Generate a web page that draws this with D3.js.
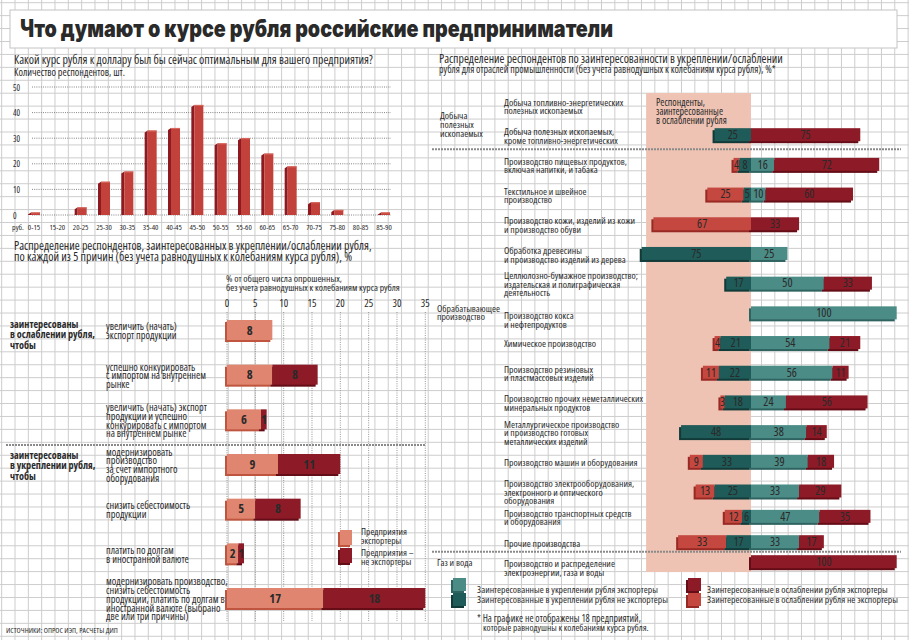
<!DOCTYPE html>
<html><head><meta charset="utf-8">
<script src="https://cdn.jsdelivr.net/npm/d3@7"></script>
<style>
body{margin:0;background:#fff}
text{font-family:"Open Sans",sans-serif;font-stretch:75%;fill:#2a2a2a}
</style></head><body><svg id="c" width="909" height="640"></svg>
<script>
// ---------- DATA ----------
const histCategories = ["0-15","15-20","20-25","25-30","30-35","35-40","40-45","45-50","50-55","55-60","60-65","65-70","70-75","75-80","80-85","85-90"];
const histValues = [1,0,3,13,17,33,34,43,28,30,24,19,5,2,0,1];
const histTicks = [0,10,20,30,40,50];

const reasonGroups = [["заинтересованы","в ослаблении рубля,","чтобы"],["заинтересованы","в укреплении рубля,","чтобы"]];
const reasonLabels = [
  ["увеличить (начать)","экспорт продукции"],
  ["успешно конкурировать","с импортом на внутреннем","рынке"],
  ["увеличить (начать) экспорт","продукции и успешно","конкурировать с импортом","на внутреннем рынке"],
  ["модернизировать","производство","за счет импортного","оборудования"],
  ["снизить себестоимость","продукции"],
  ["платить по долгам","в иностранной валюте"],
  ["модернизировать производство,","снизить себестоимость","продукции, платить по долгам в","иностранной валюте (выбрано","две или три причины)"]
];
const reasonExporters = [8,8,6,9,5,2,17];
const reasonNonExporters = [0,8,1,11,8,1,18];
const reasonTicks = [0,5,10,15,20,25,30,35];

const industryGroups = [["Добыча","полезных","ископаемых"],["Обрабатывающее","производство"],["Газ и вода"]];
const industryLabels = [
  ["Добыча топливно-энергетических","полезных ископаемых"],
  ["Добыча полезных ископаемых,","кроме топливно-энергетических"],
  ["Производство пищевых продуктов,","включая напитки, и табака"],
  ["Текстильное и швейное","производство"],
  ["Производство кожи, изделий из кожи","и производство обуви"],
  ["Обработка древесины","и производство изделий из дерева"],
  ["Целлюлозно-бумажное производство;","издательская и полиграфическая","деятельность"],
  ["Производство кокса","и нефтепродуктов"],
  ["Химическое производство"],
  ["Производство резиновых","и пластмассовых изделий"],
  ["Производство прочих неметаллических","минеральных продуктов"],
  ["Металлургическое производство","и производство готовых","металлических изделий"],
  ["Производство машин и оборудования"],
  ["Производство электрооборудования,","электронного и оптического","оборудования"],
  ["Производство транспортных средств","и оборудования"],
  ["Прочие производства"],
  ["Производство и распределение","электроэнергии, газа и воды"]
];
// weakening, non-exporters (leftmost)
const weakNonExp   = [0,0,4,25,67,0,0,0,4,11,3,0,9,13,12,33,0];
// strengthening, non-exporters (left, next to centre)
const strongNonExp = [0,25,8,5,0,75,17,0,21,22,18,48,33,25,6,17,0];
// strengthening, exporters (right, next to centre)
const strongExp    = [0,0,16,10,0,25,50,100,54,56,24,38,39,33,47,33,0];
// weakening, exporters (rightmost)
const weakExp      = [0,75,72,60,33,0,33,0,21,11,56,14,18,29,35,17,100];

const legendLeft = [["Предприятия","экспортеры"],["Предприятия –","не экспортеры"]];
const legendRight = ["Заинтересованные в укреплении рубля экспортеры","Заинтересованные в укреплении рубля не экспортеры","Заинтересованные в ослаблении рубля экспортеры","Заинтересованные в ослаблении рубля не экспортеры"];

// ---------- STYLE ----------
const C = {
  grid:"#cdcdcd", hist:"#c2413b", histSide:"#8c1a20",
  salmon:"#e08670", salmonSh:"#c0553f", dred:"#8d1a27", dredSh:"#650d17",
  lred:"#c4483f", lredSh:"#982a25", dteal:"#1f5b58", dtealSh:"#113a38",
  lteal:"#4c8c86", ltealSh:"#2e6360", shade:"#efc3b3", redText:"#b02f38"
};
const W=909,H=640;
const svg=d3.select("#c");
// font size that makes a sample string reach a measured width
function fitSize(str,width,weight){
  const t=svg.append("text").style("font-size","10px").style("font-weight",weight||400).text(str);
  const l=t.node().getComputedTextLength(); t.remove();
  return +(10*width/l).toFixed(2);
}
svg.append("rect").attr("width",W).attr("height",H).attr("fill","#fff");

// grid
const grid=svg.append("g").attr("stroke",C.grid).attr("stroke-width",1);
grid.selectAll(".v").data(d3.range(1.67,W,13.33)).join("line").attr("x1",d=>d).attr("x2",d=>d).attr("y1",0).attr("y2",H);
grid.selectAll(".h").data(d3.range(2.7,H,12.93)).join("line").attr("y1",d=>d).attr("y2",d=>d).attr("x1",0).attr("x2",W);

// title box
svg.append("rect").attr("x",10).attr("y",10).attr("width",887).attr("height",38).attr("fill","#fff").attr("stroke","#c4c4c4");
svg.append("text").attr("x",20).attr("y",37).attr("textLength",593).attr("lengthAdjust","spacingAndGlyphs")
  .style("font-family","Inter, Roboto, sans-serif").style("font-stretch","normal").style("font-weight",900).style("font-size","24px").attr("fill","#111")
  .text("Что думают о курсе рубля российские предприниматели");

function txt(g,x,y,str,width,opt={}){
  const s=opt.size||fitSize(str,width,opt.weight);
  const e=g.append("text").attr("x",x).attr("y",y).style("font-size",s+"px").text(str);
  if(opt.weight) e.style("font-weight",opt.weight);
  if(opt.fill) e.attr("fill",opt.fill);
  if(opt.anchor) e.attr("text-anchor",opt.anchor);
  return e;
}
// multi-line block as one text element with tspans, centred vertically on yc
function lines(g,x,yc,arr,step,opt={}){
  const n=arr.length;
  const e=g.append("text").attr("x",x).attr("y",yc-(n-1)/2*step+3.3).style("font-size",opt.size+"px");
  if(opt.weight) e.style("font-weight",opt.weight);
  if(opt.fill) e.attr("fill",opt.fill);
  arr.forEach((t,i)=>e.append("tspan").attr("x",x).attr("dy",i?step:0).text(t));
  return e;
}

// ---------- HISTOGRAM ----------
const gH=svg.append("g");
txt(gH,14,64,"Какой курс рубля к доллару был бы сейчас оптимальным для вашего предприятия?",359,{weight:500});
txt(gH,14,76,"Количество респондентов, шт.",111);
const hx=d3.scalePoint().domain(histCategories).range([33,383]);
const hy=d3.scaleLinear().domain([0,50]).range([215,87]);
const catSize=fitSize("85-90",15.7);
histTicks.forEach(t=>{
  gH.append("line").attr("x1",32).attr("x2",391).attr("y1",hy(t)).attr("y2",hy(t)).attr("stroke","#777").attr("stroke-width",0.9).attr("stroke-dasharray","1,1.2");
  txt(gH,13,hy(t)+3.5,t,0,{size:catSize+0.5});
});
histCategories.forEach((c,i)=>{
  const v=histValues[i]; if(v<=0) return;
  const x=hx(c), y0=hy(v), yb=hy(0);
  gH.append("polygon").attr("points",`${x-5},${y0+2} ${x-2},${y0} ${x-2},${yb} ${x-5},${yb}`).attr("fill",C.histSide);
  gH.append("rect").attr("x",x-2).attr("y",y0).attr("width",9).attr("height",yb-y0).attr("fill",C.hist);
  gH.append("rect").attr("x",x-2).attr("y",y0).attr("width",9).attr("height",1).attr("fill","#d86a5f");
});
txt(gH,12,230,"руб.",0,{size:catSize});
histCategories.forEach(c=>txt(gH,hx(c)+1,230,c,0,{size:catSize,anchor:"middle"}));

// ---------- REASONS ----------
const gR=svg.append("g");
txt(gR,14,250,"Распределение респондентов, заинтересованных в укреплении/ослаблении рубля,",358,{weight:500});
txt(gR,14,260.5,"по каждой из 5 причин (без учета равнодушных к колебаниям курса рубля), %",338,{weight:500});
txt(gR,226,281.5,"% от общего числа опрошенных,",116);
txt(gR,226,291,"без учета равнодушных к колебаниям курса рубля",174);
const rx=d3.scaleLinear().domain([0,35]).range([227,425.3]);
const ry=d3.scaleLinear().domain([0,6]).range([330,598]);
reasonTicks.forEach(t=>{
  txt(gR,rx(t),307,t,0,{size:10.5,anchor:"middle"});
  gR.append("line").attr("x1",rx(t)).attr("x2",rx(t)).attr("y1",312).attr("y2",621).attr("stroke","#8a8a8a").attr("stroke-width",0.9).attr("stroke-dasharray","1,1.3");
});
gR.append("line").attr("x1",6).attr("x2",425).attr("y1",445).attr("y2",445).attr("stroke","#8a8a8a").attr("stroke-width",2).attr("stroke-dasharray","2,1");
const grpSize=fitSize("в ослаблении рубля,",85,700);
lines(gR,10,335,reasonGroups[0],10.3,{size:grpSize,weight:700});
lines(gR,10,466,reasonGroups[1],10.3,{size:grpSize,weight:700});
const reasonSize=fitSize("увеличить (начать) экспорт",101);
reasonLabels.forEach((L,i)=>lines(gR,106,ry(i)+1.5,L,8.8,{size:reasonSize}));
reasonLabels.forEach((L,i)=>{
  const y=ry(i)-10, e=reasonExporters[i], n=reasonNonExporters[i];
  const segs=[{a:0,b:e,f:C.salmon,s:C.salmonSh,tc:"#3a1810"},{a:e,b:e+n,f:C.dred,s:C.dredSh,tc:"#fff"}].filter(d=>d.b>d.a);
  segs.forEach(d=>gR.append("rect").attr("x",rx(d.a)-2).attr("y",y+2).attr("width",rx(d.b)-rx(d.a)).attr("height",20).attr("fill",d.s));
  segs.forEach(d=>gR.append("rect").attr("x",rx(d.a)).attr("y",y).attr("width",rx(d.b)-rx(d.a)).attr("height",20).attr("fill",d.f));
  segs.forEach(d=>txt(gR,(rx(d.a)+rx(d.b))/2,y+14.5,d.b-d.a,0,{size:12.5,weight:700,fill:d.tc,anchor:"middle"}));
});
// left legend
[[C.salmon,C.salmonSh,530],[C.dred,C.dredSh,548]].forEach(([f,s,y])=>{
  gR.append("rect").attr("x",338).attr("y",y+2).attr("width",12).attr("height",15).attr("fill",s);
  gR.append("rect").attr("x",340).attr("y",y).attr("width",12).attr("height",15).attr("fill",f);
});
const legLSize=fitSize("Предприятия",46);
lines(gR,361,536,legendLeft[0],9,{size:legLSize});
lines(gR,361,557,legendLeft[1],9,{size:legLSize});
txt(gR,6,633,"ИСТОЧНИКИ: ОПРОС ИЭП, РАСЧЕТЫ ДИП",112);

// ---------- INDUSTRIES ----------
const gI=svg.append("g");
txt(gI,439,63,"Распределение респондентов по заинтересованности в укреплении/ослаблении",344,{weight:500});
txt(gI,439,73,"рубля для отраслей промышленности (без учета равнодушных к колебаниям курса рубля), %*",337,{weight:500});
const cx=d3.scaleLinear().domain([-100,100]).range([751-145.7,751+145.7]);
const rowY=d3.scaleLinear().domain([0,13,15,16]).range([105,491,541.7,561.7]);
gI.append("rect").attr("x",cx(-72)).attr("y",93).attr("width",cx(0)-cx(-72)).attr("height",479).attr("fill",C.shade);
lines(gI,656,112,["Респонденты,","заинтересованные","в ослаблении рубля"],9,{size:fitSize("заинтересованные",67),fill:C.redText});
[149.3,551.7].forEach(y=>gI.append("line").attr("x1",432).attr("x2",901).attr("y1",y).attr("y2",y).attr("stroke","#8a8a8a").attr("stroke-width",2).attr("stroke-dasharray","2,1"));
const indSize=fitSize("Производство прочих неметаллических",139);
const grpISize=fitSize("Обрабатывающее",63);
lines(gI,440,125,industryGroups[0],9,{size:grpISize});
lines(gI,437,312.5,industryGroups[1],8.5,{size:grpISize});
lines(gI,437,563,industryGroups[2],9,{size:grpISize});
const labelNudge={7:6,16:5};
industryLabels.forEach((L,i)=>lines(gI,504,rowY(i)+1.5+(labelNudge[i]||0),L,8.5,{size:indSize}));
industryLabels.forEach((L,i)=>{
  const y=rowY(i)-6.5, s=strongNonExp[i], w=weakNonExp[i], e=strongExp[i], x=weakExp[i];
  const segs=[
    {a:-(s+w),b:-s,v:w,f:C.lred,sh:C.lredSh},
    {a:-s,b:0,v:s,f:C.dteal,sh:C.dtealSh},
    {a:0,b:e,v:e,f:C.lteal,sh:C.ltealSh},
    {a:e,b:e+x,v:x,f:C.dred,sh:C.dredSh}
  ].filter(d=>d.v>0);
  segs.forEach(d=>gI.append("rect").attr("x",cx(d.a)-2).attr("y",y+2).attr("width",cx(d.b)-cx(d.a)).attr("height",13).attr("fill",d.sh));
  segs.forEach(d=>gI.append("rect").attr("x",cx(d.a)).attr("y",y).attr("width",cx(d.b)-cx(d.a)).attr("height",13).attr("fill",d.f));
  segs.forEach(d=>txt(gI,(cx(d.a)+cx(d.b))/2,y+10.8,d.v,0,{size:12,fill:"#fff",anchor:"middle"}));
});
// right legend
[[453,578,C.lteal,C.ltealSh],[453,593,C.dteal,C.dtealSh],[688,578,C.dred,C.dredSh],[688,593,C.lred,C.lredSh]].forEach(([x,y,f,s])=>{
  gI.append("rect").attr("x",x-2).attr("y",y+2).attr("width",13).attr("height",13).attr("fill",s);
  gI.append("rect").attr("x",x).attr("y",y).attr("width",13).attr("height",13).attr("fill",f);
});
txt(gI,477,592.5,legendRight[0],181);
txt(gI,477,602.5,legendRight[1],191);
txt(gI,707,592.5,legendRight[2],181);
txt(gI,707,602.5,legendRight[3],191);
txt(gI,477,621.5,"* На графике не отображены 18 предприятий,",164);
txt(gI,483,630.5,"которые равнодушны к колебаниям курса рубля.",166);
</script></body></html>
